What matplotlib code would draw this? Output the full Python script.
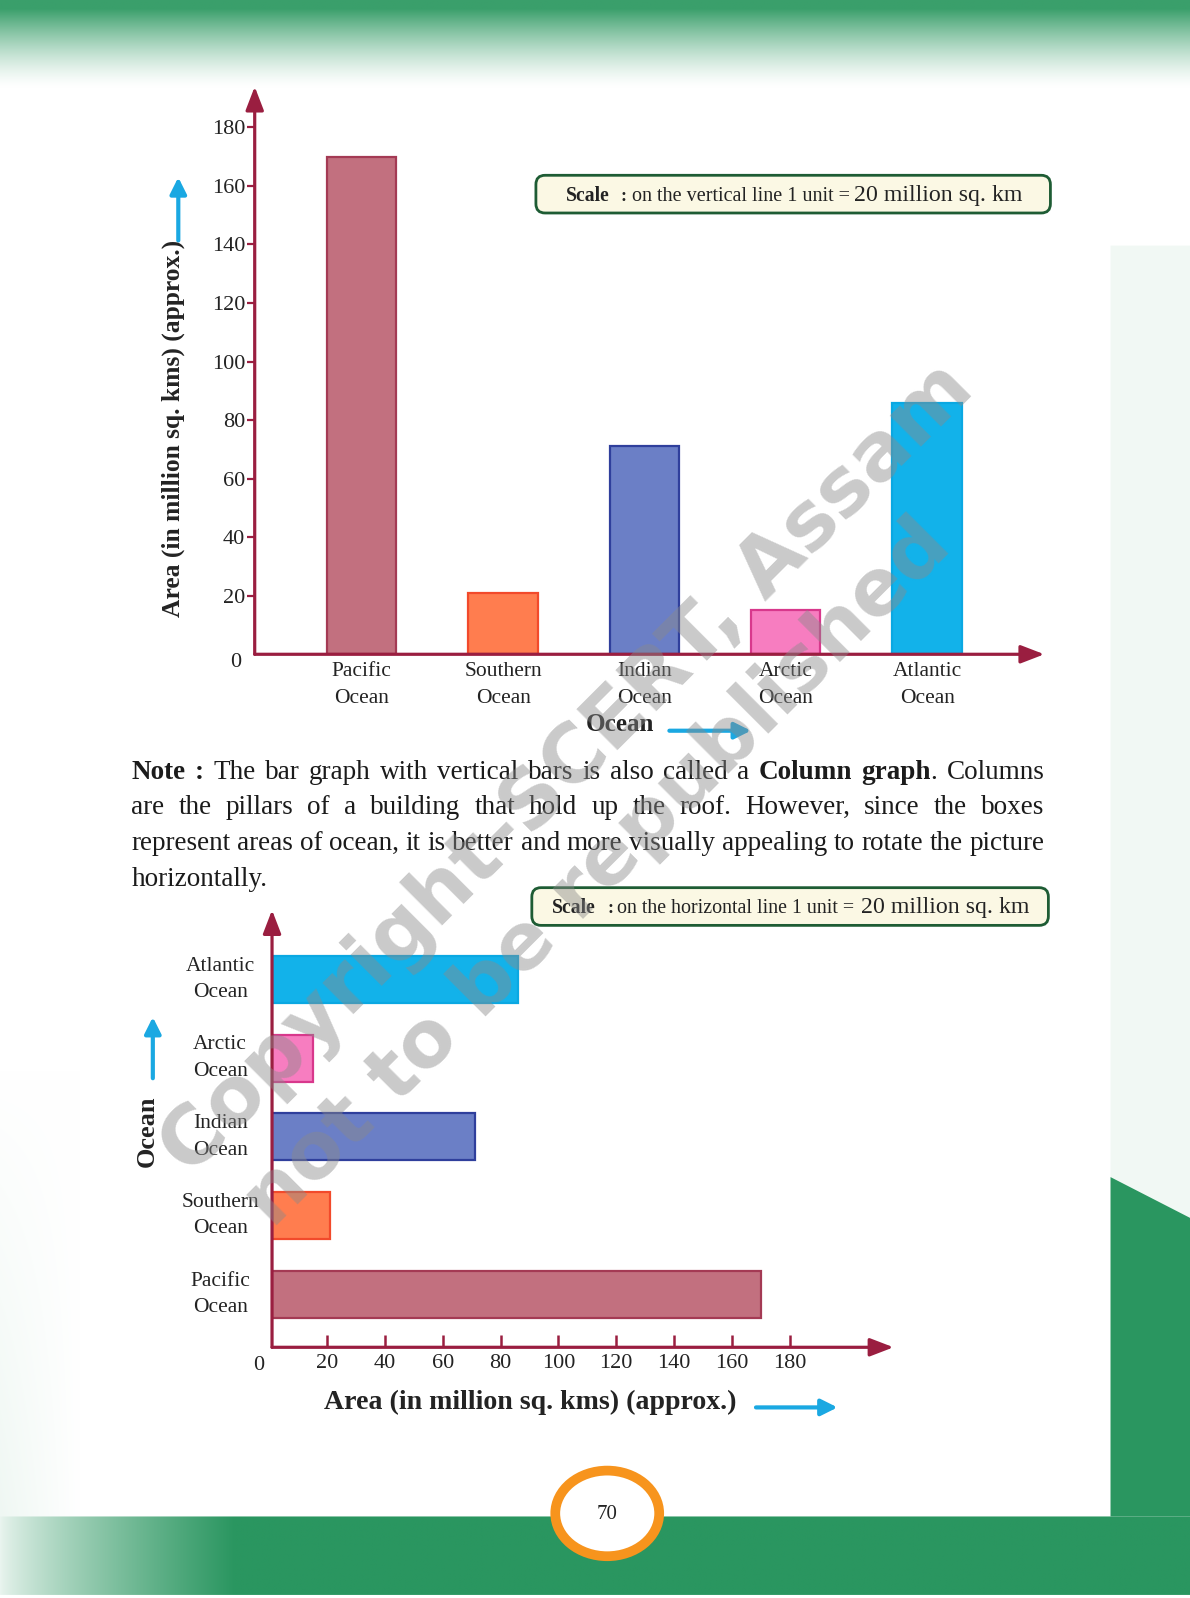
import numpy as np
import matplotlib
matplotlib.use("Agg")
import matplotlib.pyplot as plt
import matplotlib.transforms as mtransforms
from matplotlib.patches import FancyBboxPatch, Ellipse, Polygon, FancyArrowPatch

# ---------------- data ----------------
oceans = ["Pacific\nOcean", "Southern\nOcean", "Indian\nOcean", "Arctic\nOcean", "Atlantic\nOcean"]
area_million_sqkm = [170, 21, 71, 15, 86]
tick_values = [20, 40, 60, 80, 100, 120, 140, 160, 180]
fill_colors = ["#C2707F", "#FF7D4F", "#6B7FC6", "#F77DC0", "#12B2EA"]
edge_colors = ["#A43A54", "#F24A2B", "#2F3F9C", "#D8388C", "#0AA8E2"]

note_lines = [
    "**Note :** The bar graph with vertical bars is also called a **Column graph**. Columns",
    "are the pillars of a building that hold up the roof. However, since the boxes",
    "represent areas of ocean, it is better and more visually appealing to rotate the picture",
    "horizontally.",
]

# ---------------- setup ----------------
W, H = 1190, 1598
RW, RH = 1168.0, 1568.0   # reference frame coordinates

MAROON = "#9A1E40"
BLUE = "#1AA8E2"
TXT = "#232323"
SERIF = "Liberation Serif"

fig = plt.figure(figsize=(W / 100, H / 100), dpi=100)
fig.patch.set_facecolor("white")
R = fig.canvas.get_renderer()


def fx(x):
    return x / RW


def fy(y):
    return 1.0 - y / RH


def apx(d):
    return d * W / RW


# ---------------- page background ----------------
bg = fig.add_axes([0, 0, 1, 1], zorder=0)
yy, xx = np.mgrid[0:int(RH), 0:int(RW)].astype(float)
img = np.ones((int(RH), int(RW), 3))
g1 = np.array([58, 159, 107]) / 255
g2 = np.array([42, 150, 96]) / 255


def blend(alpha, col):
    global img
    a = alpha[..., None]
    img = img * (1 - a) + col * a


blend(np.clip(1 - (yy - 8) / 78, 0, 1) ** 1.4, g1)
band = (yy >= 1488) & (yy < 1565)
blend(np.where(band, 0.1 + 0.9 * np.clip(xx / 230, 0, 1) ** 0.8, 0.0), g2)
right = (xx >= 1090) & (yy > 240) & (yy < 1488)
blend(np.where(right, 0.07, 0.0), g1)
left = (xx < 78) & (yy > 1050) & (yy < 1488)
blend(np.where(left, 0.08 * np.clip((yy - 1050) / 438, 0, 1) * np.clip(1 - xx / 78, 0, 1), 0.0), g1)
bg.imshow(img, extent=(0, RW, RH, 0), aspect="auto", interpolation="bilinear", zorder=0)
bg.set_xlim(0, RW)
bg.set_ylim(RH, 0)
bg.axis("off")
bg.add_patch(Polygon([[1090, 1155], [1168, 1195], [1168, 1488], [1090, 1488]], closed=True,
                     fc=g2, ec="none", zorder=1))
bg.add_patch(Ellipse((596, 1485), 102, 84, fc="white", ec="#F7941D", lw=7, zorder=2))
bg.text(596, 1486, "70", ha="center", va="center", fontsize=15, family=SERIF, color=TXT, zorder=3)


def scale_box(x0, y0, x1, y1):
    bg.add_patch(FancyBboxPatch((x0, y0), x1 - x0, y1 - y0,
                                boxstyle="round,pad=0,rounding_size=9",
                                fc="#FBF8E4", ec="#1E5C34", lw=2, zorder=2))


def blue_arrow(p0, p1):
    bg.add_patch(FancyArrowPatch(p0, p1, arrowstyle="-|>,head_length=0.7,head_width=0.35",
                                 mutation_scale=14, lw=3, color=BLUE, zorder=3,
                                 shrinkA=0, shrinkB=0))


def fit_text(x0, x1, ybase, s, bold=False, family=SERIF, color=TXT):
    t = fig.text(fx(x0), fy(ybase), s, fontsize=12, fontweight="bold" if bold else "normal",
                 family=family, color=color, ha="left", va="baseline", zorder=5)
    w = t.get_window_extent(R).width
    t.set_fontsize(12 * apx(x1 - x0) / w)
    return t


def fit_center(cx, cy, length, s, bold=True, rotation=0, family=SERIF, color=TXT,
               alpha=1.0, zorder=5):
    t = fig.text(fx(cx), fy(cy), s, fontsize=20, fontweight="bold" if bold else "normal",
                 family=family, color=color, ha="center", va="center", alpha=alpha,
                 rotation_mode="anchor", zorder=zorder)
    w = t.get_window_extent(R).width
    t.set_fontsize(20 * apx(length) / w)
    t.set_rotation(rotation)
    return t


# ---------------- top chart (columns) ----------------
ax1 = fig.add_axes([fx(250), fy(642), fx(1025) - fx(250), fy(85) - fy(642)], zorder=1)
ax1.patch.set_alpha(0)
xpos = np.arange(len(oceans))
ax1.bar(xpos, area_million_sqkm, width=0.49, color=fill_colors, edgecolor=edge_colors,
        linewidth=1.6, zorder=2)
ax1.set_xlim(-0.757, 4.829)
ax1.set_ylim(0, 193.9)
for s in ax1.spines.values():
    s.set_visible(False)
ax1.set_xticks([])
ax1.set_yticks(tick_values)
ax1.set_yticklabels([str(v) for v in tick_values], family=SERIF, fontsize=16, color=TXT)
ax1.tick_params(axis="y", direction="out", length=6, width=1.6, color=MAROON, pad=1)
arrow_kw = dict(arrowstyle="-|>,head_length=0.65,head_width=0.25", color=MAROON, lw=2.3,
                mutation_scale=22, shrinkA=0, shrinkB=0)
ax1.annotate("", xy=(0, 1), xytext=(0, 0), xycoords="axes fraction",
             arrowprops=arrow_kw, annotation_clip=False)
ax1.annotate("", xy=(1, 0), xytext=(0, 0), xycoords="axes fraction",
             arrowprops=arrow_kw, annotation_clip=False)
fig.text(fx(231), fy(650), "0", ha="center", va="center", family=SERIF, fontsize=16, color=TXT)

trans1 = mtransforms.blended_transform_factory(ax1.transData, fig.transFigure)
for i, lab in enumerate(oceans):
    l1, l2 = lab.split("\n")
    ax1.text(i, fy(659), l1, transform=trans1, ha="center", va="center", family=SERIF,
             fontsize=15.5, color=TXT)
    ax1.text(i, fy(685), l2, transform=trans1, ha="center", va="center", family=SERIF,
             fontsize=15.5, color=TXT)

fit_center(170, 420, 370, "Area (in million sq. kms) (approx.)", rotation=90)
blue_arrow((175, 236), (175, 174))
fit_center(608, 711, 67, "Ocean")
blue_arrow((657, 717), (737, 717))

scale_box(526, 172, 1031, 209)
fit_text(555, 598, 197, "Scale", bold=True)
fig.text(fx(609), fy(197), ":", fontsize=13, fontweight="bold", family=SERIF, color=TXT,
         va="baseline", zorder=5)
fit_text(620, 833, 197, "on the vertical line 1 unit =")
fit_text(838, 1003, 197, "20 million sq. km")

# ---------------- note paragraph ----------------


def parse(line):
    words = [[]]
    bold = False
    for k, part in enumerate(line.split("**")):
        if k > 0:
            bold = not bold
        for j, p in enumerate(part.split(" ")):
            if j > 0:
                words.append([])
            if p:
                words[-1].append((p, bold))
    return [w for w in words if w]


def make_word(word, size):
    objs, widths = [], []
    for txt, b in word:
        t = fig.text(0, 0, txt, fontsize=size, fontweight="bold" if b else "normal",
                     family=SERIF, color="#1b1b1b", ha="left", va="baseline", zorder=5)
        objs.append(t)
        widths.append(t.get_window_extent(R).width)
    return objs, widths


def space_width(size):
    a = fig.text(0, 0, "x x", fontsize=size, family=SERIF)
    b = fig.text(0, 0, "xx", fontsize=size, family=SERIF)
    w = a.get_window_extent(R).width - b.get_window_extent(R).width
    a.remove()
    b.remove()
    return w


x_left, x_right = 129, 1025
target = apx(x_right - x_left)
probe = 12
sw = space_width(probe)
ws = []
for w in parse(note_lines[2]):
    objs, widths = make_word(w, probe)
    ws.append(sum(widths))
    for o in objs:
        o.remove()
note_size = probe * target / (sum(ws) + sw * (len(ws) - 1))
sw = space_width(note_size)
baselines = [764, 799, 834, 869]
for li, line in enumerate(note_lines):
    words = parse(line)
    made = [make_word(w, note_size) for w in words]
    totals = [sum(wd) for _, wd in made]
    if li < len(note_lines) - 1 and len(words) > 1:
        gap = (target - sum(totals)) / (len(words) - 1)
    else:
        gap = sw
    x = apx(x_left)
    for objs, widths in made:
        for o, wd in zip(objs, widths):
            o.set_position((x / W, fy(baselines[li])))
            x += wd
        x += gap

# ---------------- bottom chart (horizontal bars) ----------------
ax2 = fig.add_axes([fx(267), fy(1322), fx(877) - fx(267), fy(893) - fy(1322)], zorder=1)
ax2.patch.set_alpha(0)
ax2.barh(xpos, area_million_sqkm, height=0.595, color=fill_colors, edgecolor=edge_colors,
         linewidth=1.6, zorder=2)
ax2.set_xlim(0.9, 216.0)
ax2.set_ylim(-0.673, 4.88)
for s in ax2.spines.values():
    s.set_visible(False)
ax2.set_yticks([])
ax2.set_xticks(tick_values)
ax2.set_xticklabels([str(v) for v in tick_values], family=SERIF, fontsize=16, color=TXT)
ax2.tick_params(axis="x", direction="in", length=9, width=1.8, color=MAROON, pad=5)
ax2.annotate("", xy=(0, 1), xytext=(0, 0), xycoords="axes fraction",
             arrowprops=arrow_kw, annotation_clip=False)
ax2.annotate("", xy=(1, 0), xytext=(0, 0), xycoords="axes fraction",
             arrowprops=arrow_kw, annotation_clip=False)
fig.text(fx(254), fy(1340), "0", ha="center", va="center", family=SERIF, fontsize=16, color=TXT)

trans2 = mtransforms.blended_transform_factory(fig.transFigure, ax2.transData)
for i, lab in enumerate(oceans):
    l1, l2 = lab.split("\n")
    off1 = mtransforms.ScaledTranslation(0, apx(13) / 100, fig.dpi_scale_trans)
    off2 = mtransforms.ScaledTranslation(0, -apx(13) / 100, fig.dpi_scale_trans)
    ax2.text(fx(216), i, l1, transform=trans2 + off1, ha="center", va="center", family=SERIF,
             fontsize=15.5, color=TXT)
    ax2.text(fx(216), i, l2, transform=trans2 + off2, ha="center", va="center", family=SERIF,
             fontsize=15.5, color=TXT)

fit_center(145, 1110, 70, "Ocean", rotation=90)
blue_arrow((150, 1058), (150, 998))
fit_center(520, 1376, 404, "Area (in million sq. kms) (approx.)")
blue_arrow((742, 1381), (822, 1381))

scale_box(522, 871, 1029, 908)
fit_text(542, 585, 896, "Scale", bold=True)
fig.text(fx(596), fy(896), ":", fontsize=13, fontweight="bold", family=SERIF, color=TXT,
         va="baseline", zorder=5)
fit_text(606, 838, 896, "on the horizontal line 1 unit =")
fit_text(845, 1010, 896, "20 million sq. km")

# ---------------- watermark ----------------
fit_center(557, 755, 1092, "Copyright-SCERT, Assam", bold=True, rotation=45,
           family="DejaVu Sans", color="#8a8a8a", alpha=0.45, zorder=20)
fit_center(587, 857, 947, "not to be republished", bold=True, rotation=45,
           family="DejaVu Sans", color="#8a8a8a", alpha=0.45, zorder=20)

fig.savefig("out.png", dpi=100, facecolor="white")
